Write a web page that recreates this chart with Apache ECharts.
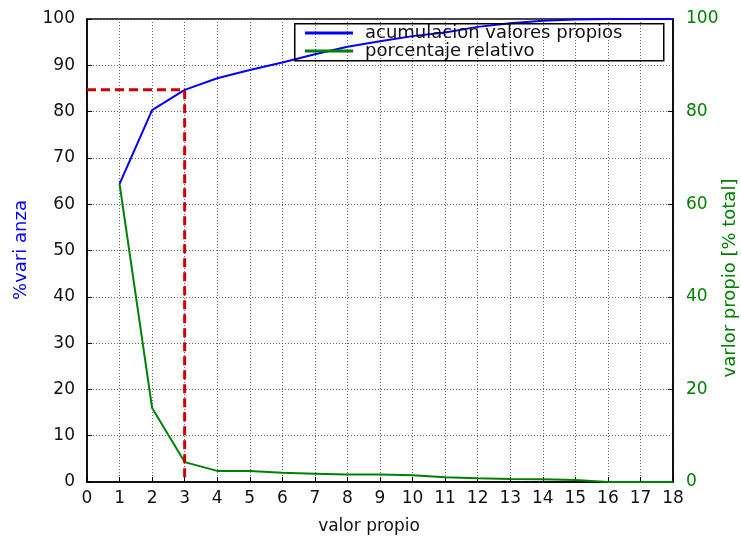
<!DOCTYPE html>
<html>
<head>
<meta charset="utf-8">
<script src="https://cdn.jsdelivr.net/npm/echarts@6/dist/echarts.min.js"></script>
<style>
  html, body { margin: 0; padding: 0; background: #fff; }
  #chart { width: 741px; height: 540px; }
</style>
</head>
<body>
<div id="chart"></div>
<script>
// Eigenvalue index (x axis)
const eigenIndex = [1, 2, 3, 4, 5, 6, 7, 8, 9, 10, 11, 12, 13, 14, 15, 16, 17, 18];
// Cumulative explained variance [%]
const cumulative = [64.4, 80.3, 84.7, 87.2, 89.0, 90.6, 92.4, 94.0, 95.2, 96.3, 97.1, 98.3, 99.1, 99.6, 99.9, 100, 100, 100];
// Relative share of each eigenvalue [% total]
const relative = [64.4, 16.0, 4.3, 2.4, 2.4, 2.0, 1.8, 1.6, 1.6, 1.45, 1.0, 0.8, 0.65, 0.6, 0.45, 0, 0, 0];
// Selected number of components
const cutoffIndex = 3;
const seriesNames = ['acumulacion valores propios', 'porcentaje relativo'];

const FONT = 'DejaVu Sans';
const cutoffValue = cumulative[eigenIndex.indexOf(cutoffIndex)];

const gridLine = { show: true, lineStyle: { color: '#666', type: [1, 2], width: 1 } };

const chart = echarts.init(document.getElementById('chart'));
chart.setOption({
  animation: false,
  backgroundColor: '#fff',
  textStyle: { fontFamily: FONT },
  grid: {
    left: 87, right: 68, top: 19, bottom: 58,
    show: true, borderColor: '#000', borderWidth: 1.5, backgroundColor: 'transparent'
  },
  legend: {
    orient: 'vertical',
    left: 305, top: 24,
    itemWidth: 48, itemHeight: 3, itemGap: 0,
    icon: 'rect',
    padding: 0,
    textStyle: { fontFamily: FONT, fontSize: 18, color: '#111', lineHeight: 16, padding: [0, 0, 0, 7] },
    data: seriesNames
  },
  xAxis: {
    type: 'value', min: 0, max: 18, interval: 1,
    axisLine: { lineStyle: { color: '#000', width: 1.5 } },
    axisTick: { inside: true, length: 5, lineStyle: { color: '#000' } },
    axisLabel: { color: '#111', fontSize: 17, fontFamily: FONT, margin: 8 },
    splitLine: gridLine
  },
  yAxis: [
    {
      type: 'value', min: 0, max: 100, interval: 10,
      axisLine: { show: true, lineStyle: { color: '#000', width: 1.5 } },
      axisTick: { show: true, inside: true, length: 5, lineStyle: { color: '#000' } },
      axisLabel: { color: '#111', fontSize: 17, fontFamily: FONT, margin: 12 },
      splitLine: gridLine
    },
    {
      type: 'value', min: 0, max: 100, interval: 20, position: 'right',
      axisLine: { show: true, lineStyle: { color: '#000', width: 1.5 } },
      axisTick: { show: true, inside: true, length: 5, lineStyle: { color: '#000' } },
      axisLabel: { color: '#008000', fontSize: 17, fontFamily: FONT, margin: 13 },
      splitLine: { show: false }
    }
  ],
  graphic: [
    {
      type: 'rect', left: 294, top: 23, z: 50,
      shape: { width: 369, height: 37 },
      style: { fill: 'transparent', stroke: '#000', lineWidth: 1.5 }
    },
    {
      type: 'text', x: 369, y: 527,
      style: { text: 'valor propio', fill: '#111', font: '17px "DejaVu Sans"', textAlign: 'center', textVerticalAlign: 'middle' }
    },
    {
      type: 'text', x: 21, y: 250, rotation: Math.PI / 2,
      style: { text: '%vari anza', fill: '#0000ff', font: '18px "DejaVu Sans"', textAlign: 'center', textVerticalAlign: 'middle' }
    },
    {
      type: 'text', x: 730, y: 278, rotation: Math.PI / 2,
      style: { text: 'varlor propio [% total]', fill: '#008000', font: '18px "DejaVu Sans"', textAlign: 'center', textVerticalAlign: 'middle' }
    }
  ],
  series: [
    {
      name: seriesNames[0], type: 'line', yAxisIndex: 0,
      data: eigenIndex.map((x, i) => [x, cumulative[i]]),
      showSymbol: false, symbol: 'none',
      lineStyle: { color: '#0000ff', width: 2 }, itemStyle: { color: '#0000ff' },
      z: 3
    },
    {
      name: seriesNames[1], type: 'line', yAxisIndex: 1,
      data: eigenIndex.map((x, i) => [x, relative[i]]),
      showSymbol: false, symbol: 'none',
      lineStyle: { color: '#008000', width: 2 }, itemStyle: { color: '#008000' },
      z: 2
    },
    {
      name: 'corte', type: 'line', yAxisIndex: 0,
      data: [[0, cutoffValue], [cutoffIndex, cutoffValue], [cutoffIndex, 0]],
      showSymbol: false, symbol: 'none',
      lineStyle: { color: '#cc0000', width: 3, type: [9, 5] },
      z: 4, silent: true
    }
  ]
});
</script>
</body>
</html>
